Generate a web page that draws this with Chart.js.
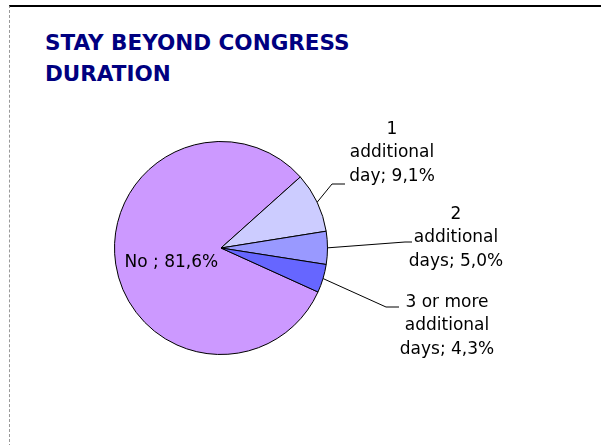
<!DOCTYPE html>
<html>
<head>
<meta charset="utf-8">
<script src="https://cdn.jsdelivr.net/npm/chart.js@4.4.0/dist/chart.umd.min.js"></script>
<style>
  body { margin: 0; background: #fff; }
  #frame {
    position: absolute; left: 9px; top: 5px; width: 592px; height: 440px;
    border-top: 2px solid #000; border-left: 1px dashed #999;
  }
  #title {
    position: absolute; left: 45px; top: 27px;
    font-family: "DejaVu Sans", sans-serif; font-weight: bold; font-size: 21.5px;
    line-height: 31px; color: #000080;
  }
  #pie { position: absolute; left: 0; top: 0; }
</style>
</head>
<body>
<div id="frame"></div>
<div id="title">STAY BEYOND CONGRESS<br>DURATION</div>
<canvas id="pie" width="601" height="445"></canvas>
<script>
const categories = ["No", "1 additional day", "2 additional days", "3 or more additional days"];
const categoryLines = [["No "], ["1", "additional", "day"], ["2", "additional", "days"], ["3 or more", "additional", "days"]];
const values = [81.6, 9.1, 5.0, 4.3];
const sliceColors = ["#CC99FF", "#CCCCFF", "#9999FF", "#6666FF"];

function labelLines(i) {
  const lines = categoryLines[i].slice();
  const pct = values[i].toFixed(1).replace(".", ",") + "%";
  lines[lines.length - 1] = lines[lines.length - 1] + "; " + pct;
  return lines;
}

const sliceLabels = {
  id: "sliceLabels",
  afterDatasetsDraw(chart, args, opts) {
    const ctx = chart.ctx;
    const arcs = chart.getDatasetMeta(0).data;
    ctx.save();
    ctx.font = opts.font;
    ctx.fillStyle = "#000";
    ctx.strokeStyle = "#000";
    ctx.lineWidth = 1;
    ctx.textAlign = "center";
    ctx.textBaseline = "middle";
    arcs.forEach((arc, i) => {
      const place = opts.places[i];
      const cx = arc.x;
      const cy = arc.y;
      const mid = (arc.startAngle + arc.endAngle) / 2;
      let tx, ty;
      if (place.inside) {
        const p = arc.tooltipPosition(true);
        tx = p.x + place.shift[0];
        ty = p.y + place.shift[1];
      } else {
        const sx = cx + Math.cos(mid) * arc.outerRadius;
        const sy = cy + Math.sin(mid) * arc.outerRadius;
        ctx.beginPath();
        ctx.moveTo(sx, sy);
        ctx.lineTo(cx + place.elbow[0], cy + place.elbow[1]);
        ctx.lineTo(cx + place.end[0], cy + place.end[1]);
        ctx.stroke();
        tx = cx + place.text[0];
        ty = cy + place.text[1];
      }
      const lines = labelLines(i);
      lines.forEach((ln, k) => {
        ctx.fillText(ln, tx, ty + (k - (lines.length - 1) / 2) * opts.lineHeight);
      });
    });
    ctx.restore();
  }
};

new Chart(document.getElementById("pie").getContext("2d"), {
  type: "pie",
  data: {
    labels: categories,
    datasets: [{
      data: values,
      backgroundColor: sliceColors,
      borderColor: "#000",
      borderWidth: 1
    }]
  },
  options: {
    responsive: false,
    devicePixelRatio: 1,
    animation: false,
    rotation: 114.4,
    layout: { padding: { left: 114, top: 141, right: 273, bottom: 90 } },
    plugins: {
      legend: { display: false },
      tooltip: { enabled: false },
      sliceLabels: {
        font: "17px 'DejaVu Sans', sans-serif",
        lineHeight: 23.5,
        places: [
          { inside: true, shift: [3, 7] },
          { elbow: [111, -64], end: [124, -64], text: [171, -95] },
          { elbow: [184, -6], end: [191, -6], text: [235, -10] },
          { elbow: [165, 59], end: [178, 59], text: [226, 78] }
        ]
      }
    }
  },
  plugins: [sliceLabels]
});
</script>
</body>
</html>
